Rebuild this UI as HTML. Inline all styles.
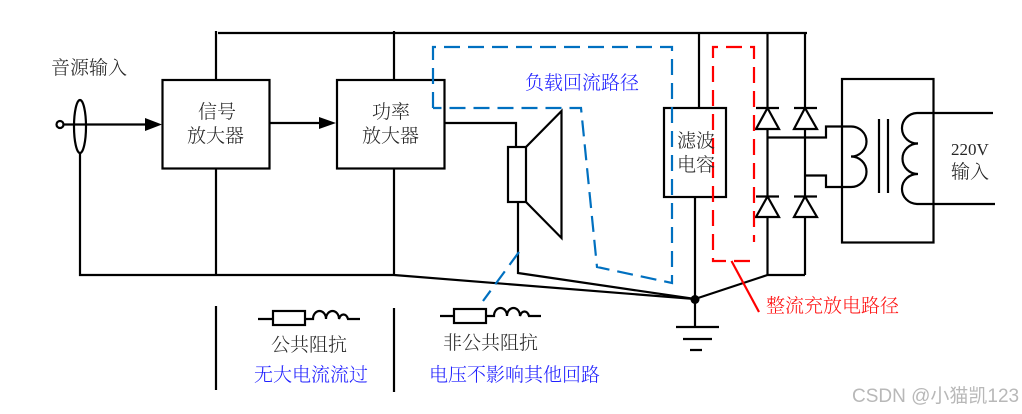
<!DOCTYPE html>
<html><head><meta charset="utf-8"><style>
html,body{margin:0;padding:0;background:#fff;width:1022px;height:414px;overflow:hidden}
svg{display:block}
text{font-family:"Liberation Serif","Noto Serif CJK SC",serif;font-size:19px;fill:#262626;font-weight:300}
.b{fill:#2020ff}.r{fill:#ff1010}
</style></head><body>
<svg width="1022" height="414" viewBox="0 0 1022 414" xmlns="http://www.w3.org/2000/svg">
<g fill="none" stroke="#000" stroke-width="2.200">
<path d="M218 33H807M216 31V80M394 31V80M699 33V108M767.500 33V108M805 33V108"/>
<rect x="162.500" y="80" width="107" height="88.500"/>
<rect x="337" y="80" width="107.500" height="88.500"/>
<rect x="664" y="108" width="62" height="89"/>
<rect x="842" y="79" width="91.500" height="163.500"/>
<circle cx="60" cy="124.500" r="3.500"/>
<ellipse cx="80" cy="126.500" rx="6" ry="26.500"/>
<path d="M64 124.500H146M270 123H320M80 153V275H394L695 299M216 168.500V275M394 168.500V275"/>
<path d="M444.500 123H516V147"/>
<rect x="508" y="147" width="18" height="55"/>
<path d="M526 147L561.500 111V238L526 202"/>
<path d="M518 202V273L695 299"/>
<path d="M695 197V327M676 327H719M683 339H712M690 350H702"/>
<path d="M767.500 275L695 299M767.500 275H805"/>
<path d="M767.500 129V197M805 129V197M767.500 217V275M805 217V275"/>
<path d="M756 108H779M767.500 108L756 129H779Z"/>
<path d="M794 108H817M805 108L794 129H817Z"/>
<path d="M756 196.500H779M767.500 196.500L756 217H779Z"/>
<path d="M794 196.500H817M805 196.500L794 217H817Z"/>
<path d="M767.500 137.500H826V126.500H851A15.500 15 0 0 1 851 156.500A15.500 15.250 0 0 1 851 187H826V175.500H805"/>
<path d="M879 119V193M888 119V193"/>
<path d="M993 113H917A15.500 15.250 0 0 0 918 143.500A15.500 15.250 0 0 0 918 174A15.500 15 0 0 0 917 204H995"/>
<path d="M258 319H273M305 319H313A6.500 8 0 0 1 326 319A6.500 8 0 0 1 339 319A5 8 0 0 1 348 319H360"/>
<rect x="273" y="311" width="32" height="14"/>
<path d="M440 316H454M486 316H494A6.500 8 0 0 1 507 316A6.500 8 0 0 1 520 316A5 8 0 0 1 529 316H541"/>
<rect x="454" y="309" width="32" height="14"/>
<path d="M216 306V390M394 308V392"/>
</g>
<path d="M145 118L162 124.500L145 131Z M319 117L336 123L319 129Z" fill="#000"/>
<circle cx="695" cy="299.500" r="4.500" fill="#000"/>
<g fill="none" stroke="#0070c0" stroke-width="2.200" stroke-dasharray="16 8">
<path d="M433 108V47H672V283L597 267L581 108H433"/>
<path d="M519 252L483 301"/>
</g>
<g fill="none" stroke="#ff0000" stroke-width="2.200">
<path stroke-dasharray="16 8" d="M750 261H713V47H754V242"/>
<path d="M731.500 261L759 312"/>
</g>
<text x="51" y="74">音源输入</text>
<text x="198" y="118">信号</text>
<text x="187" y="142">放大器</text>
<text x="372" y="118">功率</text>
<text x="362" y="142">放大器</text>
<text x="677" y="147">滤波</text>
<text x="677" y="171">电容</text>
<text x="951" y="155" style="font-size:17px">220V</text>
<text x="951" y="178">输入</text>
<text class="b" x="525" y="89">负载回流路径</text>
<text class="r" x="766" y="312">整流充放电路径</text>
<text x="271" y="351">公共阻抗</text>
<text x="443" y="349">非公共阻抗</text>
<text class="b" x="254" y="381">无大电流流过</text>
<text class="b" x="429" y="381">电压不影响其他回路</text>
<text x="852" y="402" style="font-family:'Liberation Sans','Noto Sans CJK SC',sans-serif;font-size:19px;fill:#b8b8b8;font-weight:400">CSDN @小猫凯123</text>
</svg>
</body></html>
